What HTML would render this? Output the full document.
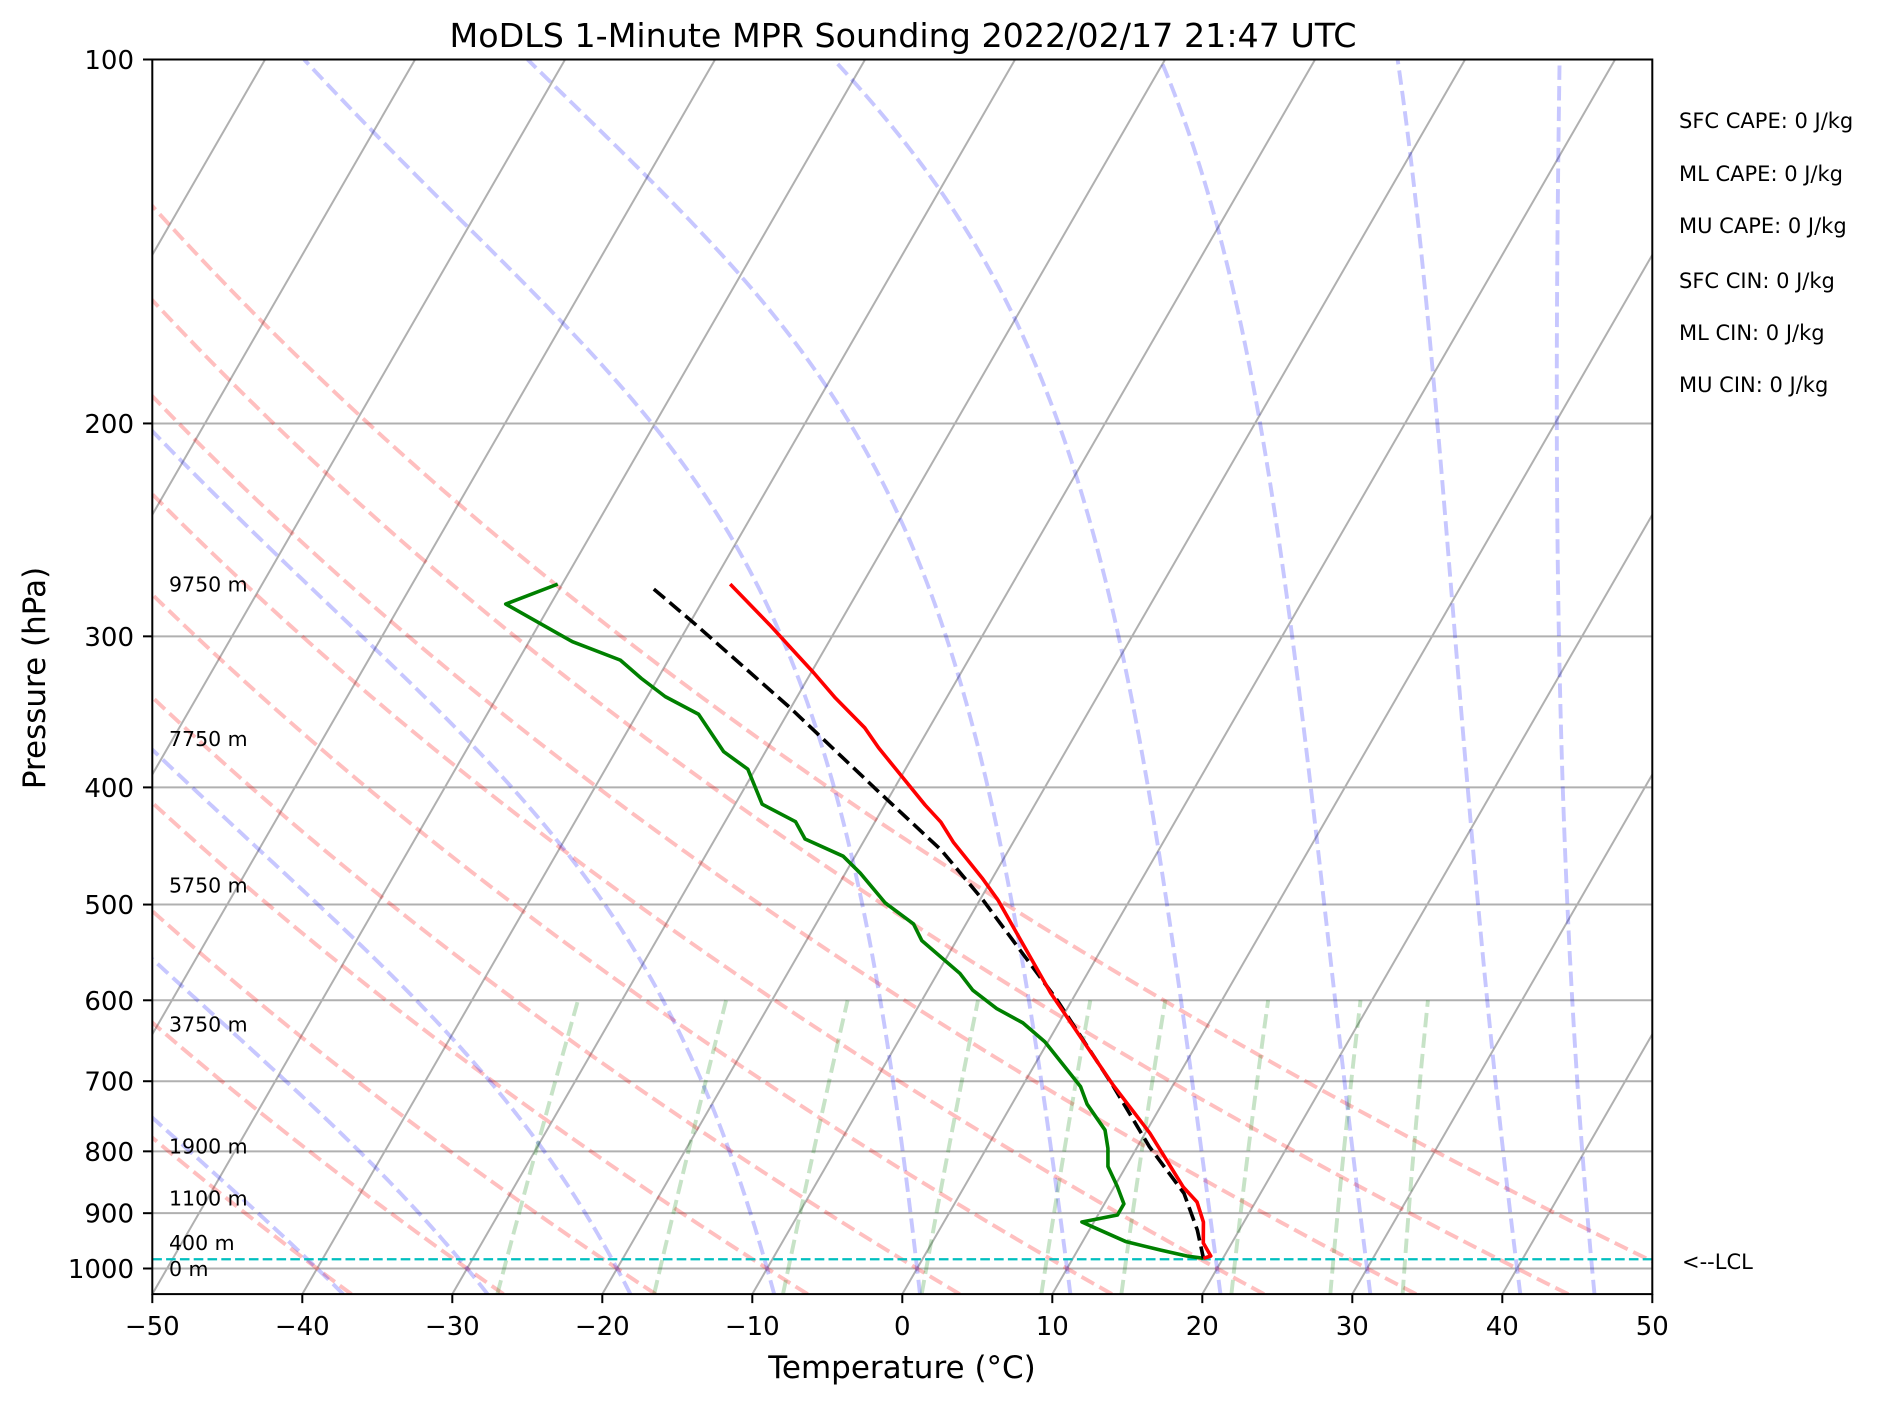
<!DOCTYPE html>
<html><head><meta charset="utf-8"><style>
html,body{margin:0;padding:0;background:#fff;}
svg{display:block;font-family:"DejaVu Sans","Liberation Sans",sans-serif;}
</style></head><body>
<svg id="chart" xmlns="http://www.w3.org/2000/svg" width="1882" height="1406" viewBox="0 0 1882 1406">
<defs><clipPath id="plotclip"><rect x="152.3" y="59.5" width="1500" height="1234.6"/></clipPath></defs>
<rect x="0" y="0" width="1882" height="1406" fill="#fff"/>
<g id="bg" clip-path="url(#plotclip)"></g>
<g id="series" clip-path="url(#plotclip)"></g>
<g id="axes"></g>
<text x="903" y="47" font-size="33.3" text-anchor="middle">MoDLS 1-Minute MPR Sounding 2022/02/17 21:47 UTC</text>
<text x="902" y="1378" font-size="31" text-anchor="middle">Temperature (°C)</text>
<text x="0" y="0" font-size="31" text-anchor="middle" transform="translate(45,678) rotate(-90)">Pressure (hPa)</text>
<g font-size="21">
<text x="1679" y="128">SFC CAPE: 0 J/kg</text>
<text x="1679" y="181">ML CAPE: 0 J/kg</text>
<text x="1679" y="233">MU CAPE: 0 J/kg</text>
<text x="1679" y="288">SFC CIN: 0 J/kg</text>
<text x="1679" y="340">ML CIN: 0 J/kg</text>
<text x="1679" y="392">MU CIN: 0 J/kg</text>
<text x="1682" y="1269">&lt;--LCL</text>
</g>
</svg>
<script>
// ---- data ----
const tempP = [271.6,293.5,321.7,337.4,357.1,371.0,392.2,413.7,427.3,443.9,475.3,495.6,591.7,705.0,772.6,856.1,881.0,915.3,952.6,976.5,980.8];
const tempT = [-38.8,-34.6,-29.8,-27.4,-24.3,-22.6,-19.9,-17.3,-15.6,-14.0,-10.7,-8.8,-1.7,6.0,10.3,14.6,16.1,17.3,18.1,19.1,18.7];
const dewP = [271.6,282.1,303.1,313.9,325.0,336.5,348.0,373.6,386.4,413.0,427.0,441.3,456.0,471.0,498.4,518.8,535.6,570.1,588.6,609.5,626.4,649.4,707.3,731.1,768.2,795.5,823.5,855.6,884.2,903.1,915.3,926.5,950.2,965.4,976.5,980.8];
const dewT = [-50.3,-53.0,-47.1,-43.2,-41.1,-38.8,-35.9,-32.8,-30.5,-28.2,-25.3,-24.0,-20.8,-19.0,-16.2,-13.5,-12.3,-8.5,-7.0,-4.7,-2.4,-0.2,3.9,5.0,7.2,8.1,8.8,10.2,11.3,11.3,9.2,10.4,12.9,15.5,17.5,18.7];
const parcelP = [274.2,292.6,344.0,402.0,450.7,495.6,599.7,707.3,793.0,866.6,929.3,980.8];
const parcelT = [-43.7,-39.7,-30.0,-21.1,-14.5,-9.8,-1.0,6.1,10.8,14.9,17.2,18.7];
const lclP = 982.6;
const pressureTicks = [100,200,300,400,500,600,700,800,900,1000];
const tempTicks = [-50,-40,-30,-20,-10,0,10,20,30,40,50];
const heightLabels = ["9750 m","7750 m","5750 m","3750 m","1900 m","1100 m","400 m","0 m"];
const heightP = [271.6,364.3,481.5,628.0,792.0,874.0,952.0,1000.0];
const dryTheta = [-40,-30,-20,-10,0,10,20,30,40,50];
const moistT0 = [-40,-30,-20,-10,0,10,20,30,40,45];
// observed 100 hPa temperature of each moist adiabat (null = leaves plot on left)
const moistTop = [null,null,null,null,-87.4,-72.5,-52.1,-30.3,-14.5,-3.7];
const mixRatios = [0.0004,0.001,0.002,0.004,0.007,0.01,0.016,0.024,0.032];

// ---- axes functions ----
const NS = "http://www.w3.org/2000/svg";
const Y1000 = 1268.5, DEC = 1209, YBOT = 1294.1, X0 = 902.3, SX = 15, SK = 0.57735;
const PBOT = 1050, PTOP = 100;
function yOf(p){ return Y1000 + DEC*Math.log10(p/1000); }
function xOf(T,p){ return X0 + SX*T + (YBOT - yOf(p))*SK; }
function pathFrom(ps, ts){
  let d = "";
  for(let i=0;i<ps.length;i++){ d += (i?"L":"M") + xOf(ts[i],ps[i]).toFixed(2) + "," + yOf(ps[i]).toFixed(2); }
  return d;
}
function mk(tag, attrs, parent){
  const e = document.createElementNS(NS, tag);
  for(const k in attrs) e.setAttribute(k, attrs[k]);
  parent.appendChild(e); return e;
}
const bg = document.getElementById('bg');
const series = document.getElementById('series');
const axes = document.getElementById('axes');

pressureTicks.forEach(p=>{
  const l = mk('line',{x1:152.3,x2:1652.3,y1:yOf(p),y2:yOf(p),stroke:'#b0b0b0','stroke-width':2},bg);
  
  
});
for(let T=-120;T<=50;T+=10){
  const l = mk('line',{x1:xOf(T,PBOT),y1:yOf(PBOT),x2:xOf(T,PTOP),y2:yOf(PTOP),stroke:'#b0b0b0','stroke-width':2},bg);
  
  
}
const levels = [];
for(let i=0;i<=120;i++){ levels.push(PBOT*Math.pow(PTOP/PBOT,i/120)); }
dryTheta.forEach(th=>{
  const ts = levels.map(p=> (th+273.15)*Math.pow(p/1000,0.2857) - 273.15);
  const e = mk('path',{d:pathFrom(levels,ts),fill:'none',stroke:'rgba(255,0,0,0.25)','stroke-width':3.9,'stroke-dasharray':'14.4 6.2'},bg);
  
  
});
// moist adiabats
function es(Tc){ return 6.112*Math.exp(17.67*Tc/(Tc+243.5)); }
function dTdp(p,T,k){
  const Tc=T-273.15, e=es(Tc), rs=k*0.622*e/Math.max(p-e,1);
  const Lv=2.501e6, Rd=287.04, Cp=1005.7;
  return (1/p)*(Rd*T + Lv*rs)/(Cp + Lv*Lv*rs*0.622/(Rd*T*T));
}
function integrate(T0, p0, p1, n, k){
  const out=[[p0,T0]]; let T=T0, p=p0; const h=(p1-p0)/n;
  for(let i=0;i<n;i++){
    const k1=dTdp(p,T,k), k2=dTdp(p+h/2,T+h/2*k1,k), k3=dTdp(p+h/2,T+h/2*k2,k), k4=dTdp(p+h,T+h*k3,k);
    T += h/6*(k1+2*k2+2*k3+k4); p+=h; out.push([p,T]);
  }
  return out;
}
function fitK(t0, target){
  let lo=0, hi=6;
  for(let it=0;it<30;it++){
    const mid=(lo+hi)/2;
    const r=integrate(t0+273.15,1000,PTOP,200,Math.pow(10,mid));
    const top=r[r.length-1][1]-273.15;
    if(top<target) lo=mid; else hi=mid;
  }
  return Math.pow(10,(lo+hi)/2);
}
let kCold = 1;
moistT0.forEach((t0,i)=>{ if(moistTop[i]!==null && kCold===1){ kCold = fitK(t0, moistTop[i]); } });
moistT0.forEach((t0,i)=>{
  const k = moistTop[i]===null ? kCold : fitK(t0, moistTop[i]);
  const up = integrate(t0+273.15,1000,PTOP,400,k);
  const dn = integrate(t0+273.15,1000,PBOT,20,k).reverse();
  const pts = dn.concat(up.slice(1));
  const ps = pts.map(a=>a[0]), ts = pts.map(a=>a[1]-273.15);
  const e = mk('path',{d:pathFrom(ps,ts),fill:'none',stroke:'rgba(0,0,255,0.22)','stroke-width':3.9,'stroke-dasharray':'14.4 6.2'},bg);
  
  
});
const mixLevels = [];
for(let i=0;i<=20;i++){ mixLevels.push(PBOT + (600-PBOT)*i/20); }
mixRatios.forEach(w=>{
  const ts = mixLevels.map(p=>{ const e=p*w/(0.622+w); const l=Math.log(e/6.112); return 243.5*l/(17.67-l); });
  const e = mk('path',{d:pathFrom(mixLevels,ts),fill:'none',stroke:'rgba(0,128,0,0.22)','stroke-width':3.9,'stroke-dasharray':'14.4 6.2'},bg);
  
  
});
const lcl = mk('line',{x1:152.3,x2:1652.3,y1:yOf(lclP),y2:yOf(lclP),stroke:'#00bfbf','stroke-width':2.2,'stroke-dasharray':'9.6 4.2'},series);


const dewPath = mk('path',{d:pathFrom(dewP,dewT),fill:'none',stroke:'#008000','stroke-width':3.6,'stroke-linejoin':'round'},series);


const parcelPath = mk('path',{d:pathFrom(parcelP,parcelT),fill:'none',stroke:'#000','stroke-width':3.6,'stroke-dasharray':'14.4 6.2'},series);


const tPath = mk('path',{d:pathFrom(tempP,tempT),fill:'none',stroke:'#ff0000','stroke-width':3.6,'stroke-linejoin':'round'},series);



const frame = mk('rect',{x:152.3,y:59.5,width:1500,height:1234.6,fill:'none',stroke:'#000','stroke-width':2},axes);


pressureTicks.forEach(p=>{
  const y=yOf(p);
  const t = mk('line',{x1:143,x2:152.3,y1:y,y2:y,stroke:'#000','stroke-width':2},axes);
  
  
  const lb = mk('text',{x:134,y:y+9.5,'font-size':26,'text-anchor':'end'},axes);
  lb.textContent = String(p);
  
  
});
tempTicks.forEach(T=>{
  const x = X0 + SX*T;
  const t = mk('line',{x1:x,x2:x,y1:YBOT,y2:YBOT+9,stroke:'#000','stroke-width':2},axes);
  
  
  const lb = mk('text',{x:x,y:1335,'font-size':26,'text-anchor':'middle'},axes);
  lb.textContent = (T<0?'\u2212':'') + Math.abs(T);
  
  
});
heightLabels.forEach((s,i)=>{
  const lb = mk('text',{x:169,y:yOf(heightP[i])+7.5,'font-size':20.5},axes);
  lb.textContent = s;
  
  
});
</script>
</body></html>
